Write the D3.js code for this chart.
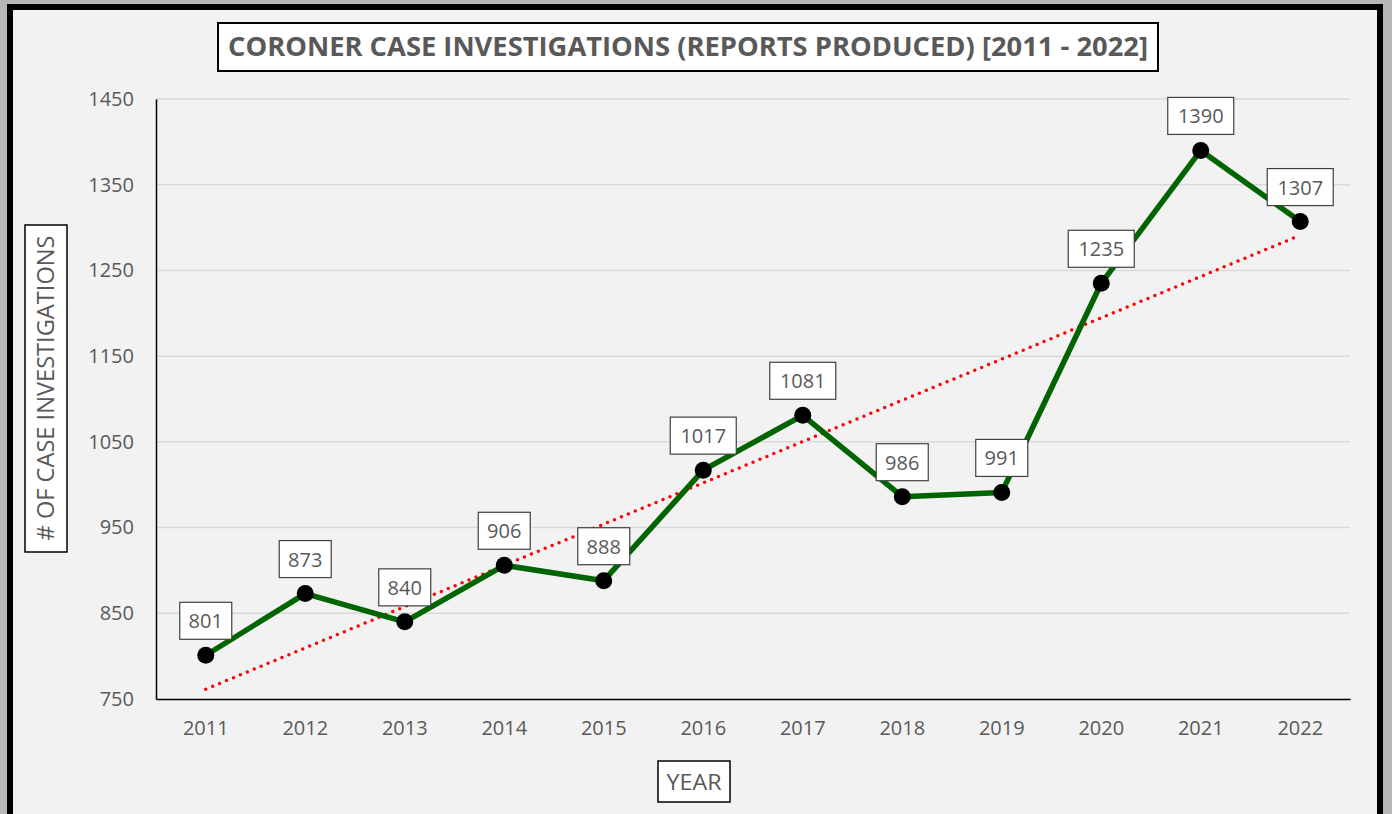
<!DOCTYPE html>
<html>
<head>
<meta charset="utf-8">
<script src="https://cdn.jsdelivr.net/npm/d3@7"></script>
<style>
	body { margin: 0; background: #b7b7b7; overflow: hidden; }
	svg { display: block; }
	text { font-family: "Open Sans", "Noto Sans", sans-serif; fill: #595959; }
</style>
</head>
<body>
<div id="viz"></div>
<script>
// Data
const years = ["2011", "2012", "2013", "2014", "2015", "2016", "2017", "2018", "2019", "2020", "2021", "2022"];
const cases = [801, 873, 840, 906, 888, 1017, 1081, 986, 991, 1235, 1390, 1307];
const yTicks = [750, 850, 950, 1050, 1150, 1250, 1350, 1450];

const w = 1392, h = 814;
const margin = {top: 99, bottom: 115, left: 156, right: 42};

const svg = d3.select("#viz")
	.append("svg")
	.attr("width", w)
	.attr("height", h);

// outer frame
svg.append("rect")
	.attr("x", 10).attr("y", 7)
	.attr("width", 1370).attr("height", 830)
	.attr("fill", "#f2f2f2")
	.attr("stroke", "#000")
	.attr("stroke-width", 6);

const xScale = d3.scaleBand()
	.domain(years)
	.range([margin.left, w - margin.right]);

const yScale = d3.scaleLinear()
	.domain([750, 1450])
	.range([h - margin.bottom, margin.top]);

// gridlines
svg.append("g")
	.selectAll("line")
	.data(yTicks.slice(1))
	.enter()
	.append("line")
	.attr("x1", margin.left)
	.attr("x2", w - margin.right)
	.attr("y1", d => yScale(d))
	.attr("y2", d => yScale(d))
	.attr("stroke", "#d9d9d9")
	.attr("stroke-width", 1.5);

// axes
const yAxis = svg.append("g")
	.attr("transform", `translate(${margin.left},0)`)
	.call(d3.axisLeft(yScale).tickValues(yTicks).tickFormat(d3.format("d")).tickSize(0).tickPadding(22));
yAxis.select(".domain").attr("stroke", "#000").attr("stroke-width", 1.5);
yAxis.selectAll("text").style("font-size", "20px").attr("fill", "#595959");

const xAxis = svg.append("g")
	.attr("transform", `translate(0,${h - margin.bottom})`)
	.call(d3.axisBottom(xScale).tickSize(0).tickPadding(22));
xAxis.select(".domain").attr("stroke", "#000").attr("stroke-width", 1.5);
xAxis.selectAll("text").style("font-size", "20px").attr("fill", "#595959");

// trend line (least squares)
const n = cases.length;
const mx = d3.mean(d3.range(n)), my = d3.mean(cases);
const slope = d3.sum(cases, (d, i) => (i - mx) * (d - my)) / d3.sum(d3.range(n), i => (i - mx) * (i - mx));
const icpt = my - slope * mx;
const cx = (d, i) => xScale(years[i]) + xScale.bandwidth() / 2;

svg.append("line")
	.attr("x1", cx(0, 0))
	.attr("x2", cx(0, n - 1))
	.attr("y1", yScale(icpt))
	.attr("y2", yScale(icpt + slope * (n - 1)))
	.attr("stroke", "#ff0000")
	.attr("stroke-width", 3.5)
	.attr("stroke-linecap", "round")
	.attr("stroke-dasharray", "0 7.5");

// main line
const line = d3.line()
	.x(cx)
	.y(d => yScale(d));

svg.append("path")
	.datum(cases)
	.attr("d", line)
	.attr("fill", "none")
	.attr("stroke", "#006400")
	.attr("stroke-width", 5.5)
	.attr("stroke-linejoin", "round");

svg.append("g")
	.selectAll("circle")
	.data(cases)
	.enter()
	.append("circle")
	.attr("cx", cx)
	.attr("cy", d => yScale(d))
	.attr("r", 8.5)
	.attr("fill", "#000");

// data labels
const labels = svg.append("g")
	.selectAll("g")
	.data(cases)
	.enter()
	.append("g")
	.attr("transform", (d, i) => `translate(${cx(d, i)},${yScale(d) - 34})`);

labels.append("rect")
	.attr("x", d => String(d).length > 3 ? -33 : -26)
	.attr("y", -19)
	.attr("width", d => String(d).length > 3 ? 66 : 52)
	.attr("height", 37)
	.attr("fill", "#fff")
	.attr("stroke", "#404040")
	.attr("stroke-width", 1.2);

labels.append("text")
	.attr("text-anchor", "middle")
	.attr("dy", "0.35em")
	.style("font-size", "20px")
	.attr("fill", "#404040")
	.text(d => d);

// title
svg.append("rect")
	.attr("x", 218).attr("y", 23)
	.attr("width", 940).attr("height", 48)
	.attr("fill", "#fff")
	.attr("stroke", "#000")
	.attr("stroke-width", 2);
svg.append("text")
	.attr("x", 688).attr("y", 47)
	.attr("text-anchor", "middle")
	.attr("dy", "0.35em")
	.attr("textLength", 920)
	.attr("lengthAdjust", "spacingAndGlyphs")
	.style("font-size", "27px")
	.style("font-weight", "bold")
	.text("CORONER CASE INVESTIGATIONS (REPORTS PRODUCED) [2011 - 2022]");

// y title
svg.append("rect")
	.attr("x", 25).attr("y", 225)
	.attr("width", 42).attr("height", 327)
	.attr("fill", "#fff")
	.attr("stroke", "#000")
	.attr("stroke-width", 1.5);
svg.append("text")
	.attr("transform", "translate(46,388) rotate(-90)")
	.attr("text-anchor", "middle")
	.attr("dy", "0.35em")
	.attr("textLength", 305)
	.attr("lengthAdjust", "spacingAndGlyphs")
	.style("font-size", "23px")
	.text("# OF CASE INVESTIGATIONS");

// x title
svg.append("rect")
	.attr("x", 658).attr("y", 761)
	.attr("width", 72).attr("height", 41)
	.attr("fill", "#fff")
	.attr("stroke", "#000")
	.attr("stroke-width", 1.5);
svg.append("text")
	.attr("x", 694).attr("y", 782)
	.attr("text-anchor", "middle")
	.attr("dy", "0.35em")
	.attr("textLength", 55)
	.attr("lengthAdjust", "spacingAndGlyphs")
	.style("font-size", "22px")
	.text("YEAR");
</script>
</body>
</html>
